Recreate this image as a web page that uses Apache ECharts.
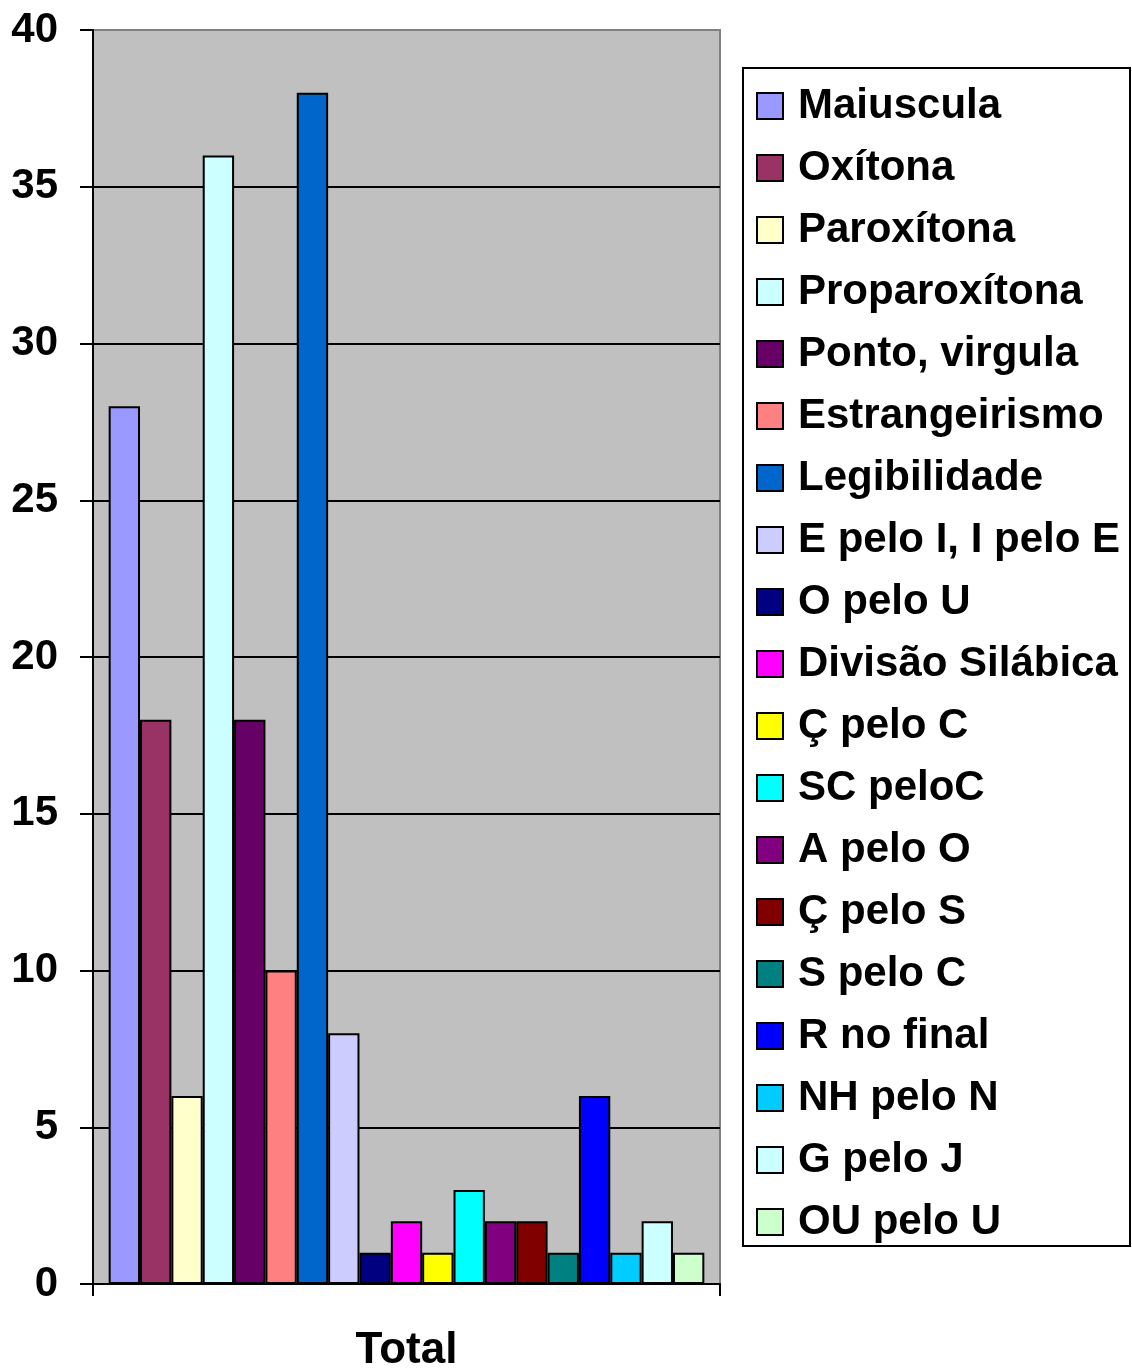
<!DOCTYPE html>
<html>
<head>
<meta charset="utf-8">
<script src="https://cdn.jsdelivr.net/npm/echarts@6/dist/echarts.min.js"></script>
<style>html,body{margin:0;padding:0;background:#fff;}#c{width:1132px;height:1370px;}</style>
</head>
<body>
<div id="c"></div>
<script>
var categories = ['Total'];
var seriesNames = ['Maiuscula','Oxítona','Paroxítona','Proparoxítona','Ponto, virgula','Estrangeirismo','Legibilidade','E pelo I, I pelo E','O pelo U','Divisão Silábica','Ç pelo C','SC peloC','A pelo O','Ç pelo S','S pelo C','R no final','NH pelo N','G pelo J','OU pelo U'];
var seriesValues = [28,18,6,36,18,10,38,8,1,2,1,3,2,2,1,6,1,2,1];
var seriesColors = ['#9999FF','#993366','#FFFFCC','#CCFFFF','#660066','#FF8080','#0066CC','#CCCCFF','#000080','#FF00FF','#FFFF00','#00FFFF','#800080','#800000','#008080','#0000FF','#00CCFF','#CCFFFF','#CCFFCC'];
var yTicks = [0,5,10,15,20,25,30,35,40];

var FONT = '"Liberation Sans", Arial, sans-serif';
var chart = echarts.init(document.getElementById('c'), null, {renderer:'canvas'});
var series = seriesNames.map(function(n,i){
  return {
    name:n, type:'bar', data:[seriesValues[i]],
    barGap:'0%', barCategoryGap:'5%',
    itemStyle:{color:seriesColors[i], borderColor:'#000', borderWidth:2},
    emphasis:{disabled:true}, animation:false
  };
});
var splitColors = yTicks.map(function(v,i){ return i===yTicks.length-1 ? '#808080' : '#000'; });
chart.setOption({
  backgroundColor:'#fff',
  animation:false,
  grid:{left:93, right:412, top:30, bottom:86, containLabel:false, outerBoundsMode:'none',
    show:true, backgroundColor:'#C0C0C0', borderColor:'#808080', borderWidth:2},
  xAxis:{type:'category', data:categories,
    axisLine:{lineStyle:{color:'#000', width:2}},
    axisTick:{show:true, length:12, lineStyle:{color:'#000', width:2}},
    axisLabel:{fontSize:44, fontWeight:'bold', color:'#000', fontFamily:FONT, margin:45}
  },
  yAxis:{type:'value', min:yTicks[0], max:yTicks[yTicks.length-1], interval:5,
    axisLine:{show:true, lineStyle:{color:'#000', width:2}},
    axisTick:{show:true, length:13, lineStyle:{color:'#000', width:2}},
    axisLabel:{fontSize:42, fontWeight:'bold', color:'#000', fontFamily:FONT, margin:35},
    splitLine:{show:true, lineStyle:{color:splitColors, width:2}}
  },
  legend:{orient:'vertical', left:756, top:85, padding:0, itemGap:20,
    itemWidth:26, itemHeight:26, icon:'rect',
    itemStyle:{borderColor:'#000', borderWidth:2},
    textStyle:{fontSize:42, fontWeight:'bold', color:'#000', fontFamily:FONT, lineHeight:42, padding:[0,0,0,10]},
    selectedMode:false,
    data:seriesNames
  },
  graphic:[{type:'rect', shape:{x:743, y:68, width:387, height:1178}, style:{fill:null, stroke:'#000', lineWidth:2}, z:-1}],
  series:series
});
</script>
</body>
</html>
